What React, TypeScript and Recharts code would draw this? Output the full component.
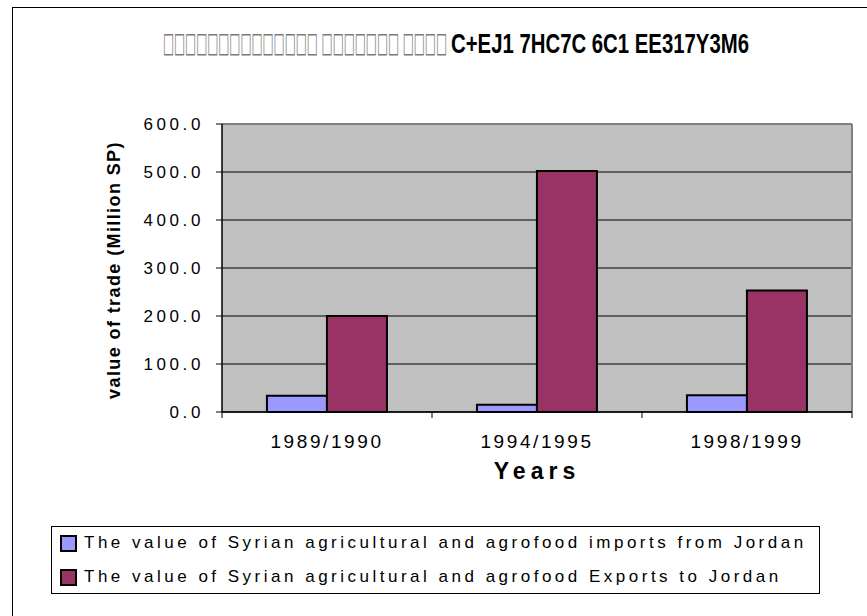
import React from 'react';
import * as RC from 'recharts';
import { BarChart, Bar, XAxis, YAxis, CartesianGrid } from 'recharts';

const categories = ['1989/1990', '1994/1995', '1998/1999'];
const importsFromJordan = [34, 15, 35];
const exportsToJordan = [200, 502, 253];
const yTicks = [0, 100, 200, 300, 400, 500, 600];
const seriesNames = [
  'The value of Syrian agricultural and agrofood imports from Jordan',
  'The value of Syrian agricultural and agrofood Exports to Jordan',
];
const seriesColors = ['#9999FF', '#993366'];
const titleBoxes = '□□□□□□□□□□□□□□ □□□□□□□ □□□□';
const titleText = 'C+EJ1 7HC7C 6C1 EE317Y3M6';
const yAxisTitle = 'value of trade (Million SP)';
const xAxisTitle = 'Years';

const data = categories.map((c, i) => ({
  year: c,
  imports: importsFromJordan[i],
  exports: exportsToJordan[i],
}));

const FONT = '"Liberation Sans", Arial, sans-serif';
const W = 867;
const H = 616;
const margin = { top: 124, right: 15, left: 142, bottom: 164 };
const Y_AXIS_W = 80;
const X_AXIS_H = 40;

const usePA: any = (RC as any).usePlotArea;

function PlotFrame() {
  const pa = usePA ? usePA() : null;
  const area = pa || {
    x: margin.left + Y_AXIS_W,
    y: margin.top,
    width: W - margin.left - Y_AXIS_W - margin.right,
    height: H - margin.top - margin.bottom - X_AXIS_H,
  };
  const { x, y, width, height } = area;
  const n = categories.length;
  return (
    <g>
      <line x1={x} y1={y} x2={x + width} y2={y} stroke="#808080" strokeWidth={2} />
      <line x1={x + width} y1={y} x2={x + width} y2={y + height} stroke="#808080" strokeWidth={2} />
      {Array.from({ length: n + 1 }).map((_, i) => (
        <line
          key={i}
          x1={x + (i * width) / n}
          x2={x + (i * width) / n}
          y1={y + height}
          y2={y + height + 6}
          stroke="#000"
          strokeWidth={1}
        />
      ))}
    </g>
  );
}

export default function App() {
  return (
    <div style={{ position: 'absolute', left: 0, top: 0, width: W, height: H, overflow: 'hidden', background: '#fff' }}>
      <div
        style={{
          position: 'absolute',
          left: 12,
          top: 7,
          width: 1000,
          height: 1000,
          border: '1px solid #000',
          boxSizing: 'border-box',
        }}
      />
      <div style={{ position: 'absolute', left: 0, top: 0 }}>
        <BarChart
          width={W}
          height={H}
          data={data}
          margin={margin}
          barCategoryGap="21.4%"
          barGap={0}
          style={{ fontFamily: FONT }}
        >
          <CartesianGrid fill="#C0C0C0" stroke="#000" vertical={false} strokeWidth={1} />
          <text
            x={163}
            y={52}
            fill="#7a7a7a"
            fontSize={28}
            textLength={284}
            lengthAdjust="spacingAndGlyphs"
            fontFamily='"DejaVu Sans", sans-serif'
          >
            {titleBoxes}
          </text>
          <text
            x={451}
            y={53}
            fill="#000"
            fontSize={28}
            fontWeight="bold"
            textLength={298}
            lengthAdjust="spacingAndGlyphs"
            fontFamily={FONT}
          >
            {titleText}
          </text>
          <XAxis
            dataKey="year"
            height={X_AXIS_H}
            tickLine={false}
            tickSize={0}
            tickMargin={23}
            axisLine={{ stroke: '#000', strokeWidth: 1.5 }}
            tick={{ fill: '#000', fontSize: 19, letterSpacing: 2.6, fontFamily: FONT }}
            label={{
              content: (p: any) => {
                const vb = p.viewBox || {};
                return (
                  <text
                    x={vb.x + vb.width / 2}
                    y={479}
                    textAnchor="middle"
                    fontSize={23}
                    fontWeight="bold"
                    letterSpacing={5}
                    fill="#000"
                    fontFamily={FONT}
                  >
                    {xAxisTitle}
                  </text>
                );
              },
            }}
          />
          <YAxis
            width={Y_AXIS_W}
            domain={[0, 600]}
            ticks={yTicks}
            interval={0}
            tickFormatter={(v: number) => v.toFixed(1)}
            tickSize={6}
            tickMargin={12}
            tickLine={{ stroke: '#000' }}
            axisLine={{ stroke: '#000', strokeWidth: 1.5 }}
            tick={{ fill: '#000', fontSize: 17, letterSpacing: 3.6, fontFamily: FONT }}
            label={{
              content: (p: any) => {
                const vb = p.viewBox || {};
                const cx = 114;
                const cy = vb.y + vb.height / 2 + 2;
                return (
                  <text
                    x={cx}
                    y={cy}
                    transform={`rotate(-90 ${cx} ${cy})`}
                    textAnchor="middle"
                    dominantBaseline="central"
                    fontSize={18}
                    fontWeight="bold"
                    letterSpacing={1.4}
                    fill="#000"
                    fontFamily={FONT}
                  >
                    {yAxisTitle}
                  </text>
                );
              },
            }}
          />
          <Bar dataKey="imports" name={seriesNames[0]} fill={seriesColors[0]} stroke="#000" strokeWidth={2} isAnimationActive={false} />
          <Bar dataKey="exports" name={seriesNames[1]} fill={seriesColors[1]} stroke="#000" strokeWidth={2} isAnimationActive={false} />
          <PlotFrame />
        </BarChart>
      </div>
      <div
        style={{
          position: 'absolute',
          left: 51,
          top: 526,
          width: 769,
          height: 68,
          border: '1px solid #000',
          boxSizing: 'border-box',
          fontFamily: FONT,
          fontSize: 17,
          letterSpacing: 3.5,
          color: '#000',
        }}
      >
        {seriesNames.map((name, i) => (
          <div
            key={i}
            style={{ position: 'absolute', left: 8, top: 5 + i * 34, height: 22, display: 'flex', alignItems: 'center', whiteSpace: 'nowrap' }}
          >
            <span
              style={{
                display: 'inline-block',
                width: 13,
                height: 13,
                background: seriesColors[i],
                border: '2px solid #000',
                marginRight: 7,
              }}
            />
            <span>{name}</span>
          </div>
        ))}
      </div>
    </div>
  );
}
